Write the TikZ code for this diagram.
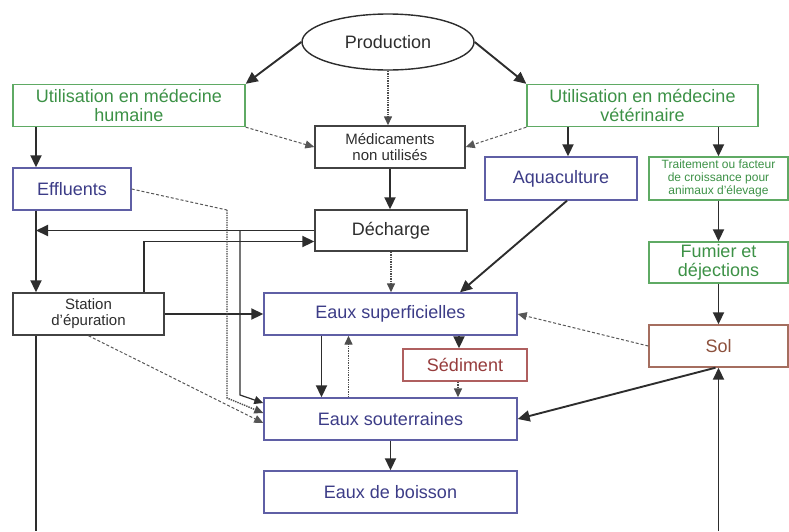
\documentclass[tikz,border=0pt]{standalone}
\usepackage{fontspec}
\setmainfont{Liberation Sans}
\usetikzlibrary{shapes.geometric,arrows.meta}
\definecolor{vert}{RGB}{60,145,70}
\definecolor{vertbord}{RGB}{95,170,100}
\definecolor{bleu}{RGB}{60,60,135}
\definecolor{bleubord}{RGB}{95,95,165}
\definecolor{rouge}{RGB}{150,60,60}
\definecolor{rougebord}{RGB}{175,95,95}
\definecolor{brun}{RGB}{140,80,60}
\definecolor{brunbord}{RGB}{165,110,95}
\definecolor{noir}{RGB}{45,45,45}
\begin{document}
\begin{tikzpicture}[x=1pt,y=-1pt]
    \tikzset{box/.style = {draw, line width=1.4pt, minimum height=42pt, inner sep=2pt, align=center, font=\fontsize{18}{19}\selectfont}}
    \tikzset{small/.style = {font=\fontsize{15}{16}\selectfont}}
    \tikzset{tiny/.style = {font=\fontsize{12}{13}\selectfont}}
    \tikzset{green box/.style = {box, draw=vertbord, text=vert}}
    \tikzset{blue box/.style = {box, draw=bleubord, text=bleu}}
    \tikzset{red box/.style = {box, draw=rougebord, text=rouge}}
    \tikzset{brown box/.style = {box, draw=brunbord, text=brun}}
    \tikzset{black box/.style = {box, draw=noir!90, text=noir}}
    \tikzset{arr/.style = {-{Triangle[length=12pt,width=11pt]}, line width=1.9pt, draw=noir}}
    \tikzset{thin arr/.style = {-{Triangle[length=9pt,width=8pt]}, line width=1.2pt, draw=noir}}
    \tikzset{dash arr/.style = {-{Triangle[length=9pt,width=8pt]}, line width=1pt, dash pattern=on 3pt off 2pt, draw=noir!80}}
    \tikzset{dash line/.style = {line width=1pt, dash pattern=on 3pt off 2pt, draw=noir!80}}
    \tikzset{dot arr/.style = {-{Triangle[length=9pt,width=8pt]}, line width=1.4pt, densely dotted, draw=noir!85}}
    \useasboundingbox (0,0) rectangle (789,531);
    % top
    \node[ellipse, draw=noir, line width=1.4pt, minimum width=172pt, minimum height=56pt, font=\fontsize{18}{19}\selectfont, text=noir] (prod) at (388,42) {Production};
    \node[green box, minimum width=232pt] (hum) at (129,105.5) {Utilisation en médecine\\humaine};
    \node[green box, minimum width=231pt] (vet) at (642.5,105.5) {Utilisation en médecine\\vétérinaire};
    \node[black box, small, minimum width=150pt] (med) at (390,147) {Médicaments\\non utilisés};
    % left column
    \node[blue box, minimum width=118pt] (eff) at (72,189) {Effluents};
    \node[black box, small, minimum width=151pt] (stat) at (88.5,314) {Station\\d'épuration};
    % centre column
    \node[black box, minimum width=152pt, minimum height=41pt] (dech) at (391,230.5) {Décharge};
    \node[blue box, minimum width=253pt] (sup) at (390.5,314) {Eaux superficielles};
    \node[red box, minimum width=124pt, minimum height=32pt] (sed) at (465,365) {Sédiment};
    \node[blue box, minimum width=253pt] (sout) at (390.5,419) {Eaux souterraines};
    \node[blue box, minimum width=253pt] (bois) at (390.5,492) {Eaux de boisson};
    % right column
    \node[blue box, minimum width=152pt, minimum height=43pt] (aqua) at (561,178.5) {Aquaculture};
    \node[green box, tiny, minimum width=139pt, minimum height=43pt] (trait) at (718.5,178.5) {Traitement ou facteur\\de croissance pour\\animaux d'élevage};
    \node[green box, minimum width=139pt, minimum height=41pt] (fum) at (718.5,262.5) {Fumier et\\déjections};
    \node[brown box, minimum width=139pt] (sol) at (718.5,346) {Sol};
    % free ends
    \coordinate (trunk) at (36,0);
    \coordinate (lowl) at (36,531);
    \coordinate (lowr) at (718.5,531);
    \coordinate (ebend) at (227,210);
    \coordinate (dbend) at (240,231);
    % from production
    \draw[arr] (prod.west) -- (hum.north east);
    \draw[arr] (prod.east) -- (vet.north west);
    \draw[dot arr] (prod.south) -- (prod.south |- med.north);
    \draw[dash arr] (hum.south east) -- (med.west);
    \draw[dash arr] (vet.south west) -- (med.east);
    % left side
    \draw[arr] (hum.south -| trunk) -- (eff.north -| trunk);
    \draw[arr] (eff.south -| trunk) -- (stat.north -| trunk);
    \draw[arr] (dech.west) -- (dech.west -| trunk);
    \draw[arr] ([xshift=132pt]stat.north west) |- ([yshift=-11pt]dech.west);
    \draw[arr] (stat.east) -- (sup.west);
    \draw[noir, line width=1.9pt] (stat.south -| trunk) -- (lowl);
    % towards groundwater
    \draw[thin arr] (dbend) -- ++(0,164) -- ([yshift=16pt]sout.west);
    \draw[dash line] (eff.east) -- (ebend);
    \draw[dot arr] (ebend) -- ++(0,188) -- ([yshift=6pt]sout.west);
    \draw[dash arr] (stat.south) -- ([yshift=-4pt]sout.west);
    % centre
    \draw[arr] (med.south) -- (med.south |- dech.north);
    \draw[dot arr] (dech.south) -- (dech.south |- sup.north);
    \draw[arr] ([xshift=-69pt]sup.south) -- ([xshift=-69pt]sout.north);
    \draw[dot arr] ([xshift=-42pt]sout.north) -- ([xshift=-42pt]sup.south);
    \draw[arr] ([xshift=68.5pt]sup.south) -- ([xshift=-6pt]sed.north);
    \draw[dot arr] ([xshift=-7pt]sed.south) -- ([xshift=67.5pt]sout.north);
    \draw[arr] (sout.south) -- (bois.north);
    % right side
    \draw[arr] ([xshift=-74.5pt]vet.south) -- ([xshift=7pt]aqua.north);
    \draw[arr] (trait.north |- vet.south) -- (trait.north);
    \draw[arr] (trait.south) -- (fum.north);
    \draw[arr] (fum.south) -- (sol.north);
    \draw[arr] ([xshift=6pt]aqua.south) -- ([xshift=69.5pt]sup.north);
    \draw[dash arr] (sol.west) -- (sup.east);
    \draw[arr] ([xshift=-3pt]sol.south) -- (sout.east);
    \draw[arr] (lowr) -- (sol.south);
\end{tikzpicture}
\end{document}
